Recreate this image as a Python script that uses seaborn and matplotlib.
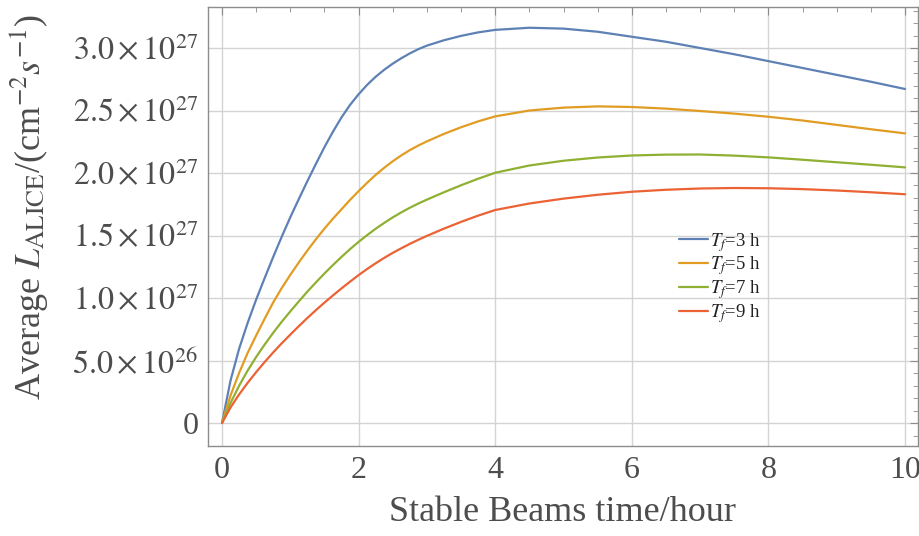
import numpy as np
import pandas as pd
import matplotlib
matplotlib.use("Agg")
import matplotlib.pyplot as plt
import seaborn as sns
from matplotlib.ticker import FixedLocator, FixedFormatter, MultipleLocator

# ---- data (luminosity in units of 1e27 cm^-2 s^-1) ----
hours = [0, 0.125, 0.25, 0.375, 0.5, 0.625, 0.75, 0.875, 1.0, 1.125, 1.25,
         1.375, 1.5, 1.625, 1.75, 1.875, 2.0, 2.125, 2.25, 2.375, 2.5, 2.625,
         2.75, 2.875, 3.0, 3.25, 3.5, 3.75, 4.0, 4.5, 5.0, 5.5, 6.0, 6.5, 7.0,
         7.5, 8.0, 8.5, 9.0, 9.5, 10.0]
lum_tf3 = [0, 0.34, 0.593, 0.80, 0.987, 1.16, 1.329, 1.491, 1.646, 1.792,
           1.935, 2.073, 2.207, 2.331, 2.445, 2.545, 2.63, 2.705, 2.77, 2.826,
           2.875, 2.918, 2.957, 2.991, 3.019, 3.062, 3.097, 3.125, 3.145, 3.162,
           3.155, 3.13, 3.09, 3.05, 3.0, 2.95, 2.895, 2.84, 2.785, 2.73, 2.672]
lum_tf5 = [0, 0.22, 0.40, 0.56, 0.70, 0.835, 0.965, 1.08, 1.185, 1.285, 1.38,
           1.47, 1.555, 1.635, 1.71, 1.785, 1.855, 1.922, 1.985, 2.042, 2.094,
           2.141, 2.183, 2.22, 2.253, 2.313, 2.366, 2.413, 2.453, 2.50, 2.523,
           2.533, 2.528, 2.515, 2.496, 2.475, 2.45, 2.42, 2.385, 2.35, 2.317]
lum_tf7 = [0, 0.16, 0.298, 0.419, 0.528, 0.628, 0.722, 0.81, 0.893, 0.973,
           1.051, 1.125, 1.196, 1.264, 1.329, 1.391, 1.449, 1.503, 1.554, 1.601,
           1.645, 1.685, 1.722, 1.756, 1.787, 1.846, 1.902, 1.954, 2.002, 2.06,
           2.098, 2.124, 2.14, 2.147, 2.148, 2.139, 2.125, 2.106, 2.086, 2.066,
           2.045]
lum_tf9 = [0, 0.124, 0.228, 0.321, 0.407, 0.488, 0.565, 0.638, 0.707, 0.775,
           0.84, 0.903, 0.963, 1.021, 1.077, 1.131, 1.183, 1.232, 1.278, 1.321,
           1.361, 1.398, 1.433, 1.466, 1.497, 1.555, 1.609, 1.659, 1.704, 1.756,
           1.795, 1.826, 1.85, 1.866, 1.876, 1.88, 1.878, 1.871, 1.86, 1.846,
           1.83]
series_labels = [r"$T_f$=3 h", r"$T_f$=5 h", r"$T_f$=7 h", r"$T_f$=9 h"]
series_colors = ["#5E81B5", "#E19C24", "#8FB032", "#EB6235"]

xtick_vals = [0, 2, 4, 6, 8, 10]
ytick_vals = [0, 0.5, 1.0, 1.5, 2.0, 2.5, 3.0]
ytick_labels = ["0", r"$5.0\times10^{26}$", r"$1.0\times10^{27}$",
                r"$1.5\times10^{27}$", r"$2.0\times10^{27}$",
                r"$2.5\times10^{27}$", r"$3.0\times10^{27}$"]
xlabel_text = "Stable Beams time/hour"
ylabel_text = r"Average $L_{\mathrm{ALICE}}$/(cm$^{-2}$$s^{-1}$)"

# ---- style ----
sns.set_style("white")
plt.rcParams["font.family"] = ["Liberation Serif", "DejaVu Serif"]
plt.rcParams["mathtext.fontset"] = "stix"

text_color = "#4d4d4d"
frame_color = "#8c8c8c"

df = pd.DataFrame({
    "hours": hours * 4,
    "lum": lum_tf3 + lum_tf5 + lum_tf7 + lum_tf9,
    "Tf": sum([[lab] * len(hours) for lab in series_labels], []),
})

fig = plt.figure(figsize=(9.2, 5.36), dpi=100)
ax = fig.add_axes([208 / 920, 1 - 446 / 536, 710 / 920, 439 / 536])

sns.lineplot(data=df, x="hours", y="lum", hue="Tf", hue_order=series_labels,
             palette=series_colors, linewidth=1.6, estimator=None, ax=ax)

ax.set_xlim(-0.205, 10.19)
ax.set_ylim(-0.184, 3.328)

ax.xaxis.set_major_locator(FixedLocator(xtick_vals))
ax.xaxis.set_minor_locator(MultipleLocator(0.5))
ax.yaxis.set_major_locator(FixedLocator(ytick_vals))
ax.yaxis.set_major_formatter(FixedFormatter(ytick_labels))
ax.yaxis.set_minor_locator(MultipleLocator(0.1))

ax.grid(True, which="major", color="#d4d4d4", linewidth=1.0)
ax.set_axisbelow(True)

for sp in ax.spines.values():
    sp.set_color(frame_color)
    sp.set_linewidth(1.0)

ax.tick_params(which="both", direction="in", top=True, right=True,
               color=frame_color, labelcolor=text_color)
ax.tick_params(which="major", length=6, width=0.8, labelsize=23, pad=7)
ax.tick_params(which="minor", length=3.5, width=0.6)

ax.set_xlabel(xlabel_text, fontsize=26, color=text_color, labelpad=8)
ax.set_ylabel(ylabel_text, fontsize=26, color=text_color)
ax.yaxis.set_label_coords(-0.2225, 0.545)

leg = ax.legend(loc="center left", bbox_to_anchor=(0.664, 0.383),
                frameon=False, fontsize=13.5, handlelength=1.5,
                handletextpad=0.15, labelspacing=0.05, borderpad=0,
                borderaxespad=0)
for t in leg.get_texts():
    t.set_color("#222222")

fig.savefig("out.png", dpi=100)
